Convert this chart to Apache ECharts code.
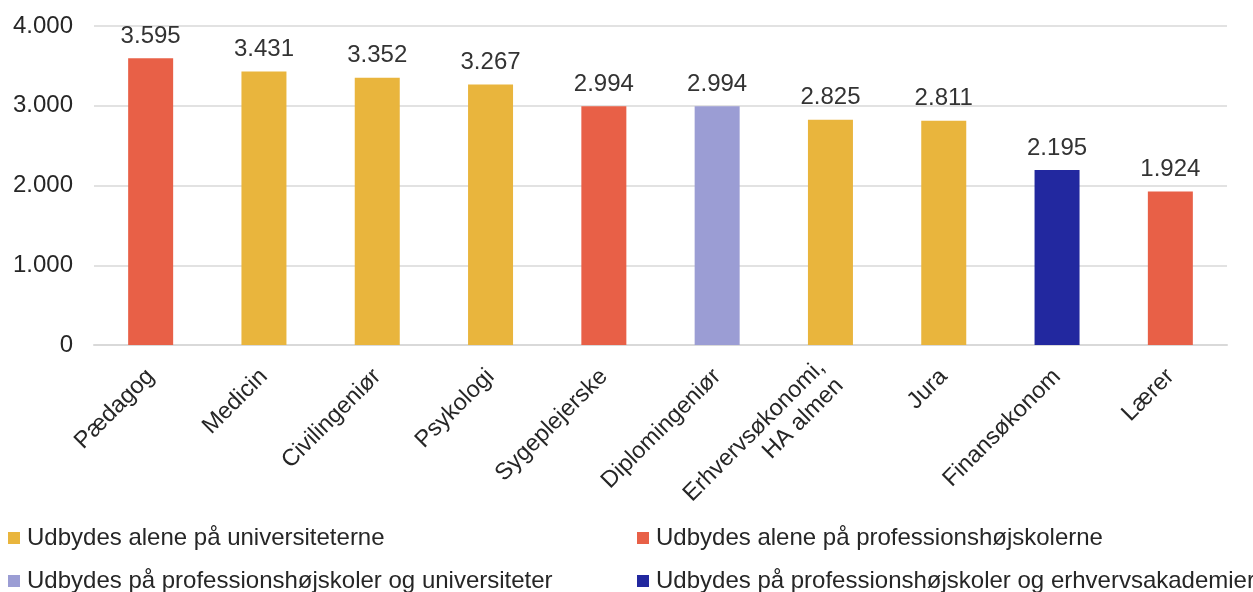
<!DOCTYPE html>
<html>
<head>
<meta charset="utf-8">
<script src="https://cdn.jsdelivr.net/npm/echarts@6/dist/echarts.min.js"></script>
<style>
  html, body { margin: 0; padding: 0; background: #fff; }
  #main { width: 1253px; height: 592px; }
</style>
</head>
<body>
<div id="main"></div>
<script>
// uddannelser og værdier
var categories = ['Pædagog', 'Medicin', 'Civilingeniør', 'Psykologi', 'Sygeplejerske',
  'Diplomingeniør', 'Erhvervsøkonomi,\nHA almen', 'Jura', 'Finansøkonom', 'Lærer'];
var values = [3595, 3431, 3352, 3267, 2994, 2994, 2825, 2811, 2195, 1924];
// gruppe pr. kategori: 0 = univ, 1 = prof.højskoler, 2 = prof+univ, 3 = prof+erhvervsakad.
var groups = [1, 0, 0, 0, 1, 2, 0, 0, 3, 1];
var groupNames = ['Udbydes alene på universiteterne', 'Udbydes alene på professionshøjskolerne',
  'Udbydes på professionshøjskoler og universiteter', 'Udbydes på professionshøjskoler og erhvervsakademier'];
var groupColors = ['#E9B53D', '#E86047', '#9B9DD4', '#22289F'];
var yTicks = [0, 1000, 2000, 3000, 4000];

var fmt = function(v) {
  return String(v).replace(/\B(?=(\d{3})+(?!\d))/g, '.');
};

var series = [];
for (var g = 0; g < groupNames.length; g++) {
  var d = [];
  for (var i = 0; i < values.length; i++) {
    d.push(groups[i] == g ? values[i] : null);
  }
  series.push({
    name: groupNames[g],
    type: 'bar',
    stack: 'alle',
    barWidth: 45,
    data: d,
    itemStyle: { color: groupColors[g] },
    label: {
      show: true,
      position: 'top',
      distance: 10,
      fontSize: 24,
      color: '#333',
      formatter: function(p) { return fmt(p.value); }
    }
  });
}

// legend: to kolonner, én legend pr. post
var legendPos = [[8, 526], [637, 526], [8, 569], [637, 569]];
var legends = [];
for (var k = 0; k < groupNames.length; k++) {
  legends.push({
    data: [groupNames[k]],
    left: legendPos[k][0], top: legendPos[k][1], padding: 0,
    itemWidth: 12, itemHeight: 12, icon: 'rect',
    textStyle: { fontSize: 24, color: '#262626', padding: [0, 0, 0, 2] }
  });
}

var myChart = echarts.init(document.getElementById('main'));
myChart.setOption({
  animation: false,
  textStyle: { fontFamily: 'Liberation Sans' },
  grid: { left: 94, right: 26, top: 26, bottom: 247, containLabel: false },
  legend: legends,
  xAxis: {
    type: 'category',
    data: categories,
    axisLine: { lineStyle: { color: '#D9D9D9', width: 2 } },
    axisTick: { show: false },
    axisLabel: {
      rotate: 45, interval: 0, fontSize: 23.5, color: '#262626', margin: 28, lineHeight: 26
    }
  },
  yAxis: {
    type: 'value',
    min: yTicks[0], max: yTicks[yTicks.length - 1], interval: 1000,
    axisLine: { show: false },
    axisTick: { show: false },
    splitLine: { lineStyle: { color: '#D9D9D9', width: 1.5 } },
    axisLabel: {
      fontSize: 24, color: '#262626', margin: 21, padding: [3, 0, 0, 0],
      formatter: function(v) { return fmt(v); }
    }
  },
  series: series
});
</script>
</body>
</html>
